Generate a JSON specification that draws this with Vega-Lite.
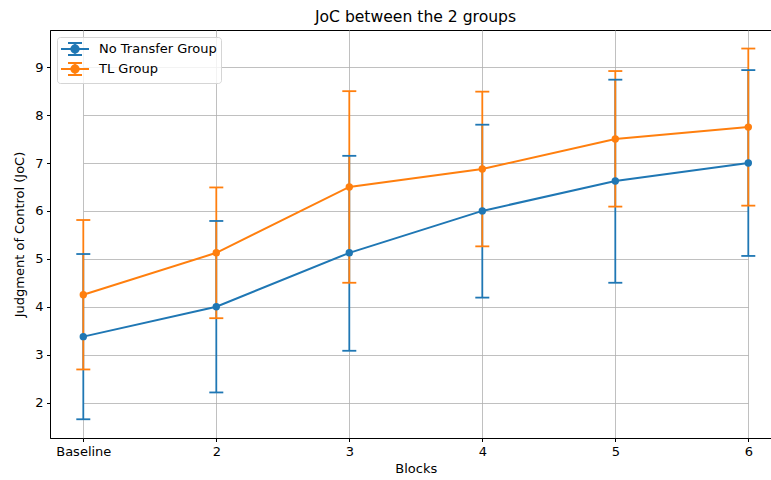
{
  "$schema": "https://vega.github.io/schema/vega-lite/v6.json",
  "autosize": {"type": "none"},
  "padding": {"left": 50, "top": 30, "right": 0, "bottom": 42},
  "width": 721,
  "height": 408,
  "background": "white",
  "config": {
    "font": "DejaVu Sans",
    "view": {"stroke": "black", "strokeWidth": 1},
    "axis": {
      "domainColor": "black",
      "domainWidth": 1,
      "tickColor": "black",
      "tickSize": 3.5,
      "tickWidth": 1,
      "gridColor": "#b0b0b0",
      "gridWidth": 0.8,
      "labelFont": "DejaVu Sans",
      "labelFontSize": 13,
      "labelColor": "black",
      "labelPadding": 3.5,
      "titleFont": "DejaVu Sans",
      "titleFontSize": 13,
      "titleFontWeight": "normal",
      "titleColor": "black"
    }
  },
  "title": {
    "text": "JoC between the 2 groups",
    "font": "DejaVu Sans",
    "fontSize": 15.6,
    "fontWeight": "normal",
    "color": "black",
    "anchor": "middle",
    "offset": 4,
    "dx": 5
  },
  "data": {
    "values": [
      {"group": "No Transfer Group", "block": "Baseline", "mean": 3.375, "lo": 1.65, "hi": 5.10},
      {"group": "No Transfer Group", "block": "2", "mean": 4.0, "lo": 2.21, "hi": 5.79},
      {"group": "No Transfer Group", "block": "3", "mean": 5.125, "lo": 3.08, "hi": 7.15},
      {"group": "No Transfer Group", "block": "4", "mean": 6.0, "lo": 4.19, "hi": 7.80},
      {"group": "No Transfer Group", "block": "5", "mean": 6.625, "lo": 4.50, "hi": 8.74},
      {"group": "No Transfer Group", "block": "6", "mean": 7.0, "lo": 5.06, "hi": 8.94},
      {"group": "TL Group", "block": "Baseline", "mean": 4.25, "lo": 2.69, "hi": 5.81},
      {"group": "TL Group", "block": "2", "mean": 5.125, "lo": 3.76, "hi": 6.49},
      {"group": "TL Group", "block": "3", "mean": 6.5, "lo": 4.50, "hi": 8.50},
      {"group": "TL Group", "block": "4", "mean": 6.875, "lo": 5.26, "hi": 8.49},
      {"group": "TL Group", "block": "5", "mean": 7.5, "lo": 6.09, "hi": 8.92},
      {"group": "TL Group", "block": "6", "mean": 7.75, "lo": 6.11, "hi": 9.39}
    ]
  },
  "encoding": {
    "x": {
      "field": "block",
      "type": "ordinal",
      "sort": ["Baseline", "2", "3", "4", "5", "6"],
      "scale": {"type": "point", "range": [33.3, 698.3], "padding": 0},
      "axis": {"title": "Blocks", "labelAngle": 0, "titlePadding": 4, "grid": true}
    },
    "color": {
      "field": "group",
      "type": "nominal",
      "scale": {"domain": ["No Transfer Group", "TL Group"], "range": ["#1f77b4", "#ff7f0e"]},
      "legend": {
        "title": null,
        "orient": "none",
        "legendX": 7,
        "legendY": 7,
        "padding": 4,
        "symbolType": "M-2,0H2M0,-0.857V0.857M-1,-0.857H1M-1,0.857H1M0.54,0A0.54,0.54 0 1,1 -0.54,0A0.54,0.54 0 1,1 0.54,0Z",
        "symbolSize": 196,
        "symbolOffset": 6,
        "symbolStrokeWidth": 1.5,
        "labelOffset": 16,
        "labelFont": "DejaVu Sans",
        "labelFontSize": 13,
        "labelColor": "black",
        "rowPadding": 0,
        "strokeColor": "#d5d5d5",
        "fillColor": "rgba(255,255,255,0.8)",
        "cornerRadius": 3,
        "encode": {
          "symbols": {
            "update": {
              "stroke": {"scale": "color", "field": "value"},
              "fill": {"scale": "color", "field": "value"},
              "strokeWidth": {"value": 1.8},
              "opacity": {"value": 1}
            }
          }
        }
      }
    }
  },
  "layer": [
    {
      "mark": {"type": "rule", "strokeWidth": 1.8},
      "encoding": {
        "y": {
          "field": "lo",
          "type": "quantitative",
          "scale": {"domain": [1.259, 9.777], "nice": false, "zero": false},
          "axis": {"title": "Judgment of Control (JoC)", "values": [2, 3, 4, 5, 6, 7, 8, 9], "titlePadding": 8}
        },
        "y2": {"field": "hi"}
      }
    },
    {
      "mark": {"type": "tick", "size": 14, "thickness": 1.8, "opacity": 1},
      "encoding": {"y": {"field": "lo", "type": "quantitative"}}
    },
    {
      "mark": {"type": "tick", "size": 14, "thickness": 1.8, "opacity": 1},
      "encoding": {"y": {"field": "hi", "type": "quantitative"}}
    },
    {
      "mark": {"type": "line", "strokeWidth": 2},
      "encoding": {"y": {"field": "mean", "type": "quantitative"}}
    },
    {
      "mark": {"type": "point", "filled": true, "size": 55, "opacity": 1, "shape": "circle"},
      "encoding": {"y": {"field": "mean", "type": "quantitative"}}
    }
  ]
}
